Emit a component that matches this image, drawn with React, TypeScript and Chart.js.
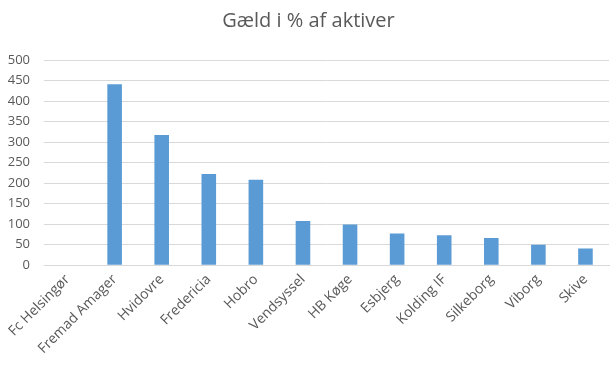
import React, { useEffect, useRef } from "react";
import { Chart, registerables } from "chart.js";

Chart.register(...registerables);

const categories = [
  "Fc Helsingør",
  "Fremad Amager",
  "Hvidovre",
  "Fredericia",
  "Hobro",
  "Vendsyssel",
  "HB Køge",
  "Esbjerg",
  "Kolding IF",
  "Silkeborg",
  "Viborg",
  "Skive",
];
const values = [0, 441, 317, 222, 208, 108, 99, 77, 73, 66, 50, 41];
const titleText = "Gæld i % af aktiver";

export default function App() {
  const ref = useRef<HTMLCanvasElement | null>(null);
  useEffect(() => {
    if (!ref.current) return;
    const chart = new Chart(ref.current, {
      type: "bar",
      data: {
        labels: categories,
        datasets: [
          {
            data: values,
            backgroundColor: "#5b9bd5",
            borderWidth: 0,
            categoryPercentage: 1,
            barPercentage: 0.31,
          },
        ],
      },
      options: {
        animation: false,
        responsive: false,
        maintainAspectRatio: false,
        layout: { padding: { top: 7, right: 7, bottom: 10, left: 8 } },
        plugins: {
          legend: { display: false },
          tooltip: { enabled: false },
          title: {
            display: true,
            text: titleText,
            color: "#595959",
            font: { family: "Open Sans", size: 20, weight: "normal" },
            padding: { top: 2, bottom: 27 },
          },
        },
        scales: {
          x: {
            grid: { display: false, drawTicks: false },
            border: { color: "#d9d9d9", width: 1 },
            afterFit: (s: any) => {
              s.paddingLeft = 0;
              s.paddingRight = 0;
            },
            ticks: {
              color: "#595959",
              font: { family: "Open Sans", size: 14 },
              minRotation: 45,
              maxRotation: 45,
              autoSkip: false,
              padding: 6,
            },
          },
          y: {
            min: 0,
            max: 500,
            afterFit: (s: any) => {
              s.width = 36;
            },
            grid: { color: "#d9d9d9", drawTicks: false },
            border: { display: false },
            ticks: {
              stepSize: 50,
              color: "#595959",
              font: { family: "Open Sans", size: 13 },
              padding: 14,
            },
          },
        },
      },
    });
    return () => chart.destroy();
  }, []);
  return (
    <div style={{ position: "fixed", left: 0, top: 0, width: 616, height: 373, background: "#fff" }}>
      <canvas ref={ref} width={616} height={373} />
    </div>
  );
}
